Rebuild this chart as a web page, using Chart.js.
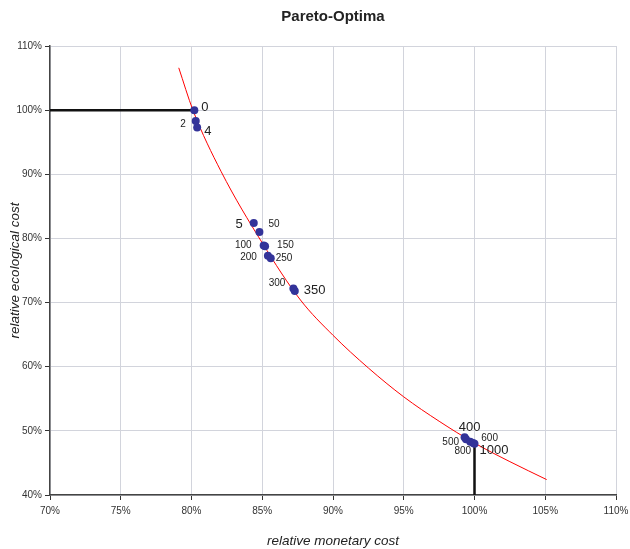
<!DOCTYPE html>
<html>
<head>
<meta charset="utf-8">
<title>Pareto-Optima</title>
<script src="https://cdn.jsdelivr.net/npm/chart.js@4.4.1/dist/chart.umd.min.js"></script>
<style>
  html, body { margin: 0; padding: 0; background: #fff; }
</style>
</head>
<body>
<canvas id="Chart" width="630" height="549"></canvas>
<script>
// Pareto points: weight factor, relative monetary cost (%), relative ecological cost (%)
let weights    = ['0', '2', '4', '5', '50', '100', '150', '200', '250', '300', '350', '400', '500', '600', '800', '1000'];
let monetary   = [80.2, 80.3, 80.4, 84.4, 84.8, 85.1, 85.2, 85.4, 85.6, 87.2, 87.3, 99.3, 99.4, 99.7, 99.9, 100.0];
let ecological = [100.0, 98.3, 97.3, 82.4, 81.0, 78.9, 78.8, 77.3, 76.9, 72.2, 71.8, 49.0, 48.7, 48.3, 48.1, 48.0];

// trend curve through the front
let fitMonetary   = [79.1, 80.1, 82.1, 85.0, 87.7, 90.0, 92.5, 95.0, 97.5, 100.0, 102.5, 105.1];
let fitEcological = [106.6, 100.0, 90.4, 79.3, 70.4, 64.9, 59.8, 55.3, 51.5, 48.1, 45.2, 42.4];

// reference lines (cost-only optimum and ecology-only optimum)
let baseMonetary    = [70, 80.2];
let baseEcological  = [100, 100];
let limitMonetary   = [100, 100];
let limitEcological = [48.0, 40];

// axis ranges
let xTicks = [70, 110, 5];
let yTicks = [40, 110, 10];

// where each weight label sits next to its point
let labelStyle = {
  '0':    { dx: 7,   dy: -3, align: 'left',   size: 13 },
  '2':    { dx: -10, dy: 3,  align: 'right',  size: 10 },
  '4':    { dx: 7,   dy: 4,  align: 'left',   size: 13 },
  '5':    { dx: -11, dy: 1,  align: 'right',  size: 13 },
  '50':   { dx: 9,   dy: -8, align: 'left',   size: 10 },
  '100':  { dx: -12, dy: 0,  align: 'right',  size: 10 },
  '150':  { dx: 12,  dy: -1, align: 'left',   size: 10 },
  '200':  { dx: -11, dy: 2,  align: 'right',  size: 10 },
  '250':  { dx: 5,   dy: 0,  align: 'left',   size: 10 },
  '300':  { dx: -8,  dy: -5, align: 'right',  size: 10 },
  '350':  { dx: 9,   dy: -1, align: 'left',   size: 13 },
  '400':  { dx: 5,   dy: -10, align: 'center', size: 13 },
  '500':  { dx: -7,  dy: 3,  align: 'right',  size: 10 },
  '600':  { dx: 11,  dy: -4, align: 'left',   size: 10 },
  '800':  { dx: -2,  dy: 8,  align: 'right',  size: 10 },
  '1000': { dx: 5,   dy: 7,  align: 'left',   size: 13 }
};

let fontFamily = '"Liberation Sans", Arial, Helvetica, sans-serif';

function toPoints(xs, ys) {
  return xs.map((x, i) => ({ x: x, y: ys[i] }));
}

// draws the weight next to every pareto point
let pointLabels = {
  id: 'pointLabels',
  afterDatasetsDraw(chart) {
    let ctx = chart.ctx;
    let meta = chart.getDatasetMeta(0);
    ctx.save();
    ctx.fillStyle = '#222';
    ctx.textBaseline = 'middle';
    meta.data.forEach((pt, i) => {
      let name = weights[i];
      let s = labelStyle[name];
      ctx.font = s.size + 'px ' + fontFamily;
      ctx.textAlign = s.align;
      ctx.fillText(name, pt.x + s.dx, pt.y + s.dy);
    });
    ctx.restore();
  }
};

let paretoCtx = document.getElementById('Chart');
let paretoConfig = {
  type: 'scatter',
  data: {
    datasets: [
      {
        label: 'Pareto',
        data: toPoints(monetary, ecological),
        backgroundColor: '#333399',
        borderWidth: 0,
        pointRadius: 4,
        order: 0
      },
      {
        label: 'base',
        data: toPoints(baseMonetary, baseEcological),
        showLine: true,
        borderColor: '#111',
        borderWidth: 2.5,
        pointRadius: 0,
        order: 1
      },
      {
        label: 'limit',
        data: toPoints(limitMonetary, limitEcological),
        showLine: true,
        borderColor: '#111',
        borderWidth: 2.5,
        pointRadius: 0,
        order: 1
      },
      {
        label: 'trend',
        data: toPoints(fitMonetary, fitEcological),
        showLine: true,
        borderColor: '#ff0000',
        borderWidth: 1,
        pointRadius: 0,
        cubicInterpolationMode: 'monotone',
        order: 2
      }
    ]
  },
  options: {
    responsive: false,
    animation: false,
    layout: { padding: { left: 0, right: 14, top: 0, bottom: 0 } },
    plugins: {
      legend: { display: false },
      tooltip: { enabled: false },
      title: {
        display: true,
        text: 'Pareto-Optima',
        fullSize: false,
        color: '#222',
        font: { family: fontFamily, size: 15, weight: 'bold' },
        padding: { top: 8, bottom: 20 }
      }
    },
    scales: {
      x: {
        type: 'linear',
        min: xTicks[0],
        max: xTicks[1],
        afterFit(scale) {
          scale.height = 54;
          scale.paddingLeft = 0;
          scale.paddingRight = 0;
        },
        ticks: {
          stepSize: xTicks[2],
          padding: 5,
          maxRotation: 0,
          color: '#333',
          font: { family: fontFamily, size: 10 },
          callback: v => v + '%'
        },
        grid: { color: '#d2d4dc', tickColor: '#333', tickLength: 5 },
        border: { color: '#444', width: 1.5 },
        title: {
          display: true,
          text: 'relative monetary cost',
          color: '#222',
          font: { family: fontFamily, size: 13.5, style: 'italic' },
          padding: { top: 0, bottom: 0 }
        }
      },
      y: {
        type: 'linear',
        min: yTicks[0],
        max: yTicks[1],
        afterFit(scale) { scale.width = 50; },
        ticks: {
          stepSize: yTicks[2],
          padding: 3,
          color: '#333',
          font: { family: fontFamily, size: 10 },
          callback: v => v + '%'
        },
        grid: { color: '#d2d4dc', tickColor: '#333', tickLength: 5 },
        border: { color: '#444', width: 1.5 },
        title: {
          display: true,
          text: 'relative ecological cost',
          color: '#222',
          font: { family: fontFamily, size: 13.5, style: 'italic' },
          padding: { top: 7, bottom: 0 }
        }
      }
    }
  },
  plugins: [pointLabels]
};
let paretoChart = new Chart(paretoCtx, paretoConfig);
</script>
</body>
</html>
